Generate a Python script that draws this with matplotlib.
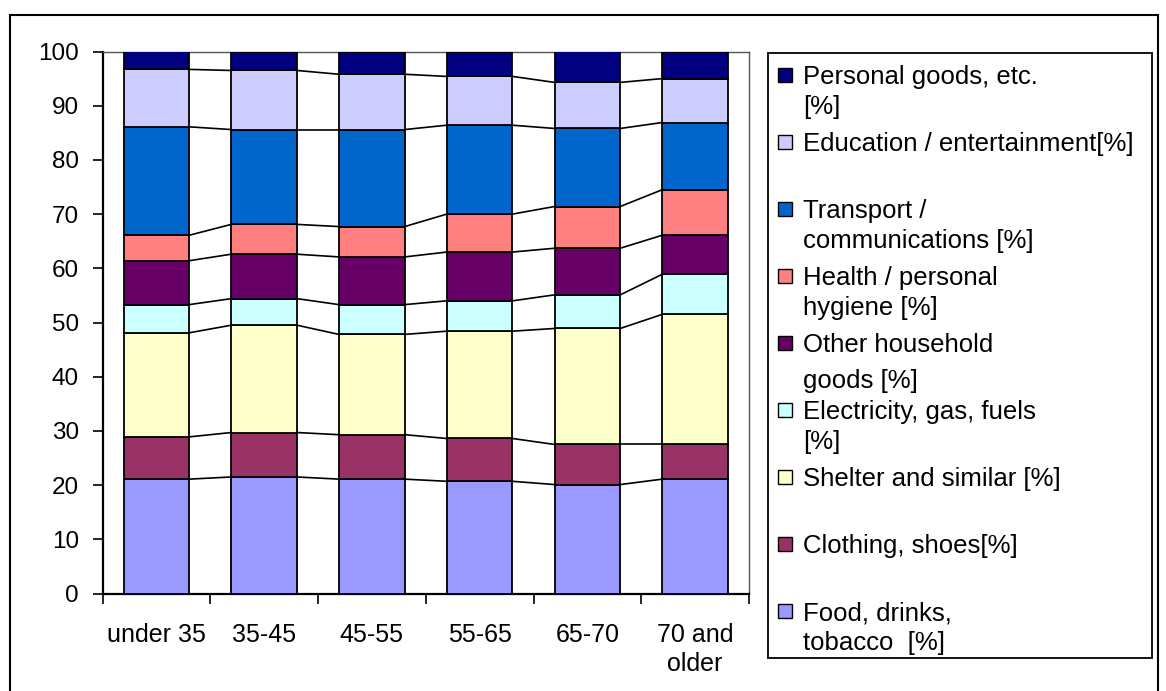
import numpy as np
import matplotlib
matplotlib.use("Agg")
import matplotlib.pyplot as plt
from matplotlib.patches import Rectangle

plt.rcParams["font.family"] = ["Liberation Sans", "DejaVu Sans"]

W, H = 1166, 691

# ── datos (cuotas de gasto por grupo de edad, %) ────────────────────────────
grupos = ["under 35", "35-45", "45-55", "55-65", "65-70", "70 and\nolder"]

food        = [21.1, 21.5, 21.1, 20.7, 20.1, 21.1]
clothing    = [7.8, 8.2, 8.2, 7.9, 7.4, 6.4]
shelter     = [19.2, 19.8, 18.5, 19.8, 21.4, 24.0]
electricity = [5.2, 4.9, 5.5, 5.6, 6.2, 7.4]
other_hh    = [8.1, 8.2, 8.8, 9.0, 8.6, 7.2]
health      = [4.7, 5.5, 5.6, 7.0, 7.7, 8.4]
transport   = [20.0, 17.5, 17.9, 16.4, 14.4, 12.4]
education   = [10.6, 10.9, 10.2, 9.0, 8.5, 8.1]
personal    = [3.3, 3.5, 4.2, 4.6, 5.7, 5.0]

series = [food, clothing, shelter, electricity, other_hh,
          health, transport, education, personal]
etiquetas = ["Food, drinks,\ntobacco  [%]", "Clothing, shoes[%]",
             "Shelter and similar [%]", "Electricity, gas, fuels\n[%]",
             "Other household\ngoods [%]", "Health / personal\nhygiene [%]",
             "Transport /\ncommunications [%]", "Education / entertainment[%]",
             "Personal goods, etc.\n[%]"]
colores = ["#9999FF", "#993366", "#FFFFCC", "#CCFFFF", "#660066",
           "#FF8080", "#0066CC", "#CCCCFF", "#000080"]


def fx(px):
    return px / W


def fy(py):
    return 1 - py / H


fig = plt.figure(figsize=(W / 100, H / 100), dpi=100)
ax = fig.add_axes([fx(102.5), fy(593.5), fx(749 - 102.5), (593.5 - 51.5) / H])

x = np.arange(len(grupos))
ancho = 0.61
base = np.zeros(len(grupos))
for vals, c in zip(series, colores):
    vals = np.array(vals)
    ax.bar(x, vals, ancho, bottom=base, color=c, edgecolor="black",
           linewidth=1.3, zorder=3)
    base = base + vals
    # líneas de serie entre barras
    for i in range(len(grupos) - 1):
        ax.plot([x[i] + ancho / 2, x[i + 1] - ancho / 2], [base[i], base[i + 1]],
                color="black", lw=1.2, zorder=2)

ax.set_xlim(-0.5, len(grupos) - 0.5)
ax.set_ylim(0, 100)
ax.set_yticks(range(0, 101, 10))
ax.tick_params(axis="y", labelsize=17.5, length=7, width=1.2, pad=10)
ax.set_xticks(np.arange(-0.5, len(grupos), 1.0))
ax.set_xticklabels([])
ax.set_xticks(x, minor=True)
ax.set_xticklabels(grupos, minor=True, fontsize=18, linespacing=1.3)
ax.tick_params(axis="x", which="major", length=7, width=1.2, direction="out")
ax.tick_params(axis="x", which="minor", length=0, pad=21)
for s in ["left", "bottom"]:
    ax.spines[s].set_linewidth(1.6)
for s in ["top", "right"]:
    ax.spines[s].set_linewidth(1.0)
    ax.spines[s].set_color("#555555")

# ── marco exterior ──────────────────────────────────────────────────────────
fig.patches.append(Rectangle((fx(10), fy(720)), fx(1148), (720 - 15) / H,
                             transform=fig.transFigure, fill=False,
                             edgecolor="black", lw=1.5))

# ── leyenda (orden inverso, como en el original) ────────────────────────────
fig.patches.append(Rectangle((fx(768), fy(658)), fx(1152 - 768), (658 - 53) / H,
                             transform=fig.transFigure, fill=False,
                             edgecolor="black", lw=1.3))
y0, paso = 75, 67.0
for k, (lab, c) in enumerate(zip(etiquetas[::-1], colores[::-1])):
    ym = y0 + k * paso
    fig.patches.append(Rectangle((fx(778), fy(ym + 7)), fx(14), 14 / H,
                                 transform=fig.transFigure, facecolor=c,
                                 edgecolor="black", lw=1.0))
    for j, linea in enumerate(lab.split("\n")):
        yl = ym + 2 + j * 30
        if k == 4 and j == 1:
            yl += 6
        fig.text(fx(803), fy(yl), linea, fontsize=18.5, va="center", ha="left")

fig.savefig("out.png", dpi=100)
